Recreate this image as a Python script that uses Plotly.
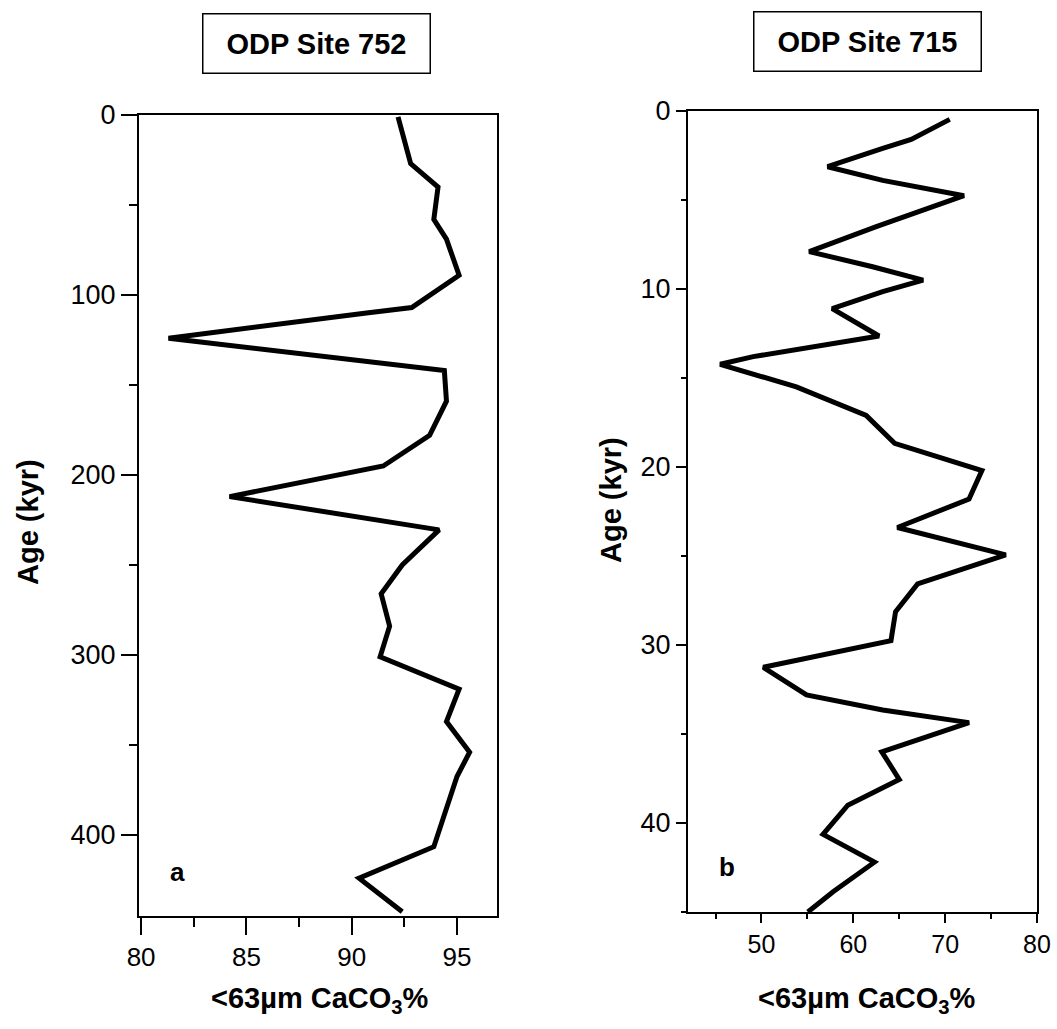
import plotly.graph_objects as go

W, H = 1057, 1029

# ODP Site 752 (panel a)
caco3_752 = [92.2, 92.8, 94.1, 93.9, 94.5, 95.1, 92.85, 90.7, 81.3, 94.4, 94.5, 93.7,
             91.5, 84.2, 94.15, 92.4, 91.4, 91.8, 91.35, 95.1, 94.5, 95.6, 95.0, 93.9,
             90.35, 92.4]
age_752 = [1, 27, 40, 58, 69, 89, 107, 110, 124, 142, 159, 178,
           195, 212, 230.5, 250, 266, 284, 301, 319, 337, 354, 367.5, 406.5,
           424, 442.6]

# ODP Site 715 (panel b)
caco3_715 = [70.5, 66.3, 63.2, 57.2, 63.2, 72.05, 62.5, 55.2, 62.1, 67.6, 63.2, 57.7,
             62.8, 53.1, 49.1, 45.5, 53.8, 61.4, 64.5, 74.0, 72.6, 64.8, 76.6, 67.0,
             64.6, 64.1, 50.2, 54.9, 63.2, 72.6, 63.1, 65.0, 59.4, 56.7, 62.3, 57.8,
             55.05]
age_715 = [0.47, 1.6, 2.1, 3.13, 3.9, 4.76, 6.5, 7.9, 8.75, 9.5, 10.15, 11.1,
           12.64, 13.5, 13.8, 14.23, 15.5, 17.1, 18.67, 20.2, 21.8, 23.4, 24.94, 26.57,
           28.13, 29.76, 31.25, 32.8, 33.65, 34.36, 36.0, 37.55, 39.0, 40.64, 42.2, 43.86,
           45.0]

ticks_752_x = [80, 85, 90, 95]
ticks_752_y = [0, 100, 200, 300, 400]
ticks_715_x = [50, 60, 70, 80]
ticks_715_y = [0, 10, 20, 30, 40]

FONT = "Arial, Liberation Sans, sans-serif"

def px(x):
    return x / W

def py(y):
    return 1 - y / H

fig = go.Figure()
fig.add_trace(go.Scatter(x=caco3_752, y=age_752, mode="lines",
                         line=dict(color="black", width=5), xaxis="x", yaxis="y",
                         showlegend=False))
fig.add_trace(go.Scatter(x=caco3_715, y=age_715, mode="lines",
                         line=dict(color="black", width=5), xaxis="x2", yaxis="y2",
                         showlegend=False))

common = dict(showline=True, linecolor="black", linewidth=2, mirror=True,
              ticks="outside", tickcolor="black", tickwidth=2, showgrid=False,
              zeroline=False, automargin=False)

fig.update_layout(
    width=W, height=H,
    autosize=False,
    margin=dict(l=0, r=0, t=0, b=0, pad=0, autoexpand=False),
    paper_bgcolor="white", plot_bgcolor="white",
    font=dict(family=FONT, color="black"),
    xaxis=dict(domain=[px(139), px(497)], range=[79.9, 96.9], anchor="y",
               tickvals=ticks_752_x, ticklen=17, tickfont=dict(size=26),
               minor=dict(dtick=2.5, tick0=0, ticks="outside", ticklen=9,
                          tickcolor="black", tickwidth=2),
               **common),
    yaxis=dict(domain=[py(916), py(115)], range=[445, 0], anchor="x",
               tickvals=ticks_752_y, ticklen=16, tickfont=dict(size=27),
               minor=dict(dtick=50, tick0=0, ticks="outside", ticklen=8,
                          tickcolor="black", tickwidth=2),
               **common),
    xaxis2=dict(domain=[px(688), px(1037)], range=[42, 80], anchor="y2",
                tickvals=ticks_715_x, ticklen=9, tickfont=dict(size=25),
                minor=dict(dtick=5, tick0=0, ticks="outside", ticklen=5,
                           tickcolor="black", tickwidth=2),
                **common),
    yaxis2=dict(domain=[py(912), py(111)], range=[45, 0], anchor="x2",
                tickvals=ticks_715_y, ticklen=10, tickfont=dict(size=27),
                minor=dict(dtick=5, tick0=0, ticks="outside", ticklen=5,
                           tickcolor="black", tickwidth=2),
                **common),
)

ann = []
for text, cx, cy in [("ODP Site 752", 316, 43.5), ("ODP Site 715", 867, 41)]:
    ann.append(dict(text="<b>%s</b>" % text, x=px(cx), y=py(cy), xref="paper", yref="paper",
                    showarrow=False, font=dict(size=29, family=FONT, color="black"),
                    bordercolor="black", borderwidth=1.5, borderpad=2,
                    width=222, height=54, bgcolor="white",
                    xanchor="center", yanchor="middle"))
for cx, cy in [(28, 522), (611, 500)]:
    ann.append(dict(text="<b>Age (kyr)</b>", x=px(cx), y=py(cy), xref="paper", yref="paper",
                    showarrow=False, textangle=-90, font=dict(size=29, family=FONT),
                    xanchor="center", yanchor="middle"))
for cx, cy in [(320, 1000), (867, 1000)]:
    ann.append(dict(text="<b>&lt;63µm CaCO<sub>3</sub>%</b>", x=px(cx), y=py(cy),
                    xref="paper", yref="paper", showarrow=False,
                    font=dict(size=29, family=FONT), xanchor="center", yanchor="middle"))
for t, cx, cy in [("a", 177, 872), ("b", 727, 867)]:
    ann.append(dict(text="<b>%s</b>" % t, x=px(cx), y=py(cy), xref="paper", yref="paper",
                    showarrow=False, font=dict(size=26, family=FONT),
                    xanchor="center", yanchor="middle"))

fig.update_layout(annotations=ann)
fig.write_html("out.html", config={"responsive": False})
